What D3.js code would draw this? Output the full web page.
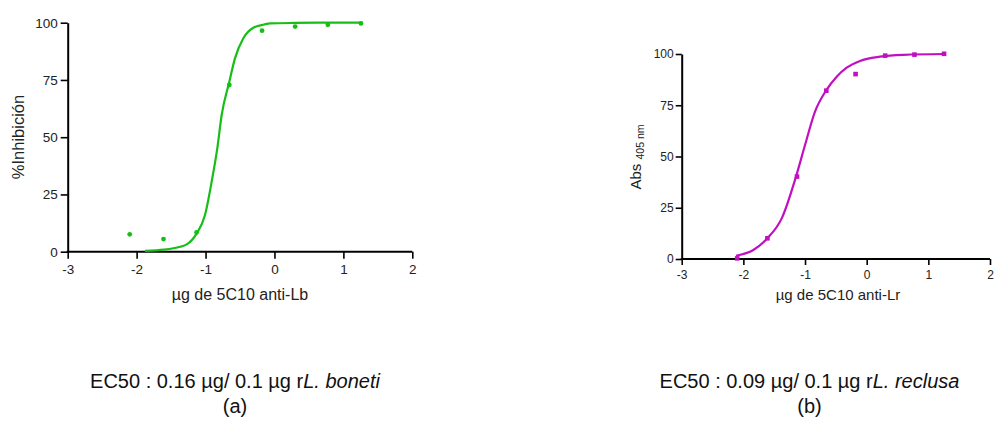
<!DOCTYPE html>
<html>
<head>
<meta charset="utf-8">
<script src="https://cdn.jsdelivr.net/npm/d3@7"></script>
<style>
  html, body { margin: 0; padding: 0; background: #fff; }
  svg { display: block; font-family: Arial, "Liberation Sans", sans-serif; }
</style>
</head>
<body>
<svg id="chart" width="995" height="421"></svg>
<script>
// ---- data (log10 of µg antibody) ----
const logDose = [-2.1, -1.61, -1.13, -0.655, -0.18, 0.30, 0.775, 1.255];
const inhibLb = [7.6, 5.5, 8.4, 72.8, 96.5, 98.3, 99.1, 99.7];
const absLr   = [0.3, 10.1, 40.2, 82.1, 90.2, 99.2, 99.7, 100.1];

// fitted curves
const curveLbX = [-1.878, -1.60, -1.467, -1.273, -1.128, -1.008, -0.911, -0.829, -0.766, -0.655, -0.573, -0.452, -0.307, -0.15, -0.065, 0.3, 0.8, 1.275];
const curveLbY = [0.4, 0.9, 1.5, 3.2, 8.0, 16.0, 30.6, 45.2, 59.7, 74.2, 84.4, 93.2, 97.8, 99.2, 99.7, 99.9, 100, 100];
const curveLrX = [-2.12, -1.839, -1.611, -1.378, -1.146, -1.0, -0.838, -0.66, -0.486, -0.324, -0.108, 0.216, 0.6, 1.25];
const curveLrY = [1.6, 4.4, 10.1, 19.8, 40.2, 55.6, 71.9, 82.1, 88.9, 93.3, 96.6, 98.7, 99.6, 100];

const xTicks = [-3, -2, -1, 0, 1, 2];
const yTicks = [0, 25, 50, 75, 100];

const svg = d3.select("#chart");
svg.append("rect").attr("width", 995).attr("height", 421).attr("fill", "#fff");

function panel(opt) {
  const x = d3.scaleLinear().domain([-3, 2]).range(opt.xr);
  const y = d3.scaleLinear().domain([0, 100]).range(opt.yr);
  const g = svg.append("g");

  const xa = g.append("g").attr("transform", `translate(0,${opt.yr[0]})`)
    .call(d3.axisBottom(x).tickValues(xTicks).tickFormat(d => d < 0 ? "-" + Math.abs(d) : String(d))
      .tickSize(opt.tick).tickPadding(opt.pad).tickSizeOuter(0));
  const ya = g.append("g").attr("transform", `translate(${opt.xr[0]},0)`)
    .call(d3.axisLeft(y).tickValues(yTicks).tickSize(opt.tick).tickPadding(opt.ypad).tickSizeOuter(0));
  [xa, ya].forEach(a => {
    a.select(".domain").attr("stroke", "#000").attr("stroke-width", 2);
    a.selectAll(".tick line").attr("stroke", "#000").attr("stroke-width", 1.6);
    a.selectAll(".tick text").attr("fill", "#222").style("font-size", opt.tf + "px");
  });
  xa.select(".domain").attr("d", `M${opt.xr[0] - 1},0H${opt.xr[1]}`);

  // curve
  const pts = opt.cx.map((v, i) => [v, opt.cy[i]]);
  g.append("path").datum(pts)
    .attr("fill", "none").attr("stroke", opt.color).attr("stroke-width", 2.2)
    .attr("d", d3.line().x(d => x(d[0])).y(d => y(d[1])).curve(d3.curveMonotoneX));

  // points
  const pd = logDose.map((v, i) => [v, opt.vals[i]]);
  if (opt.marker === "circle") {
    g.selectAll("circle.pt").data(pd).join("circle").attr("class", "pt")
      .attr("cx", d => x(d[0])).attr("cy", d => y(d[1])).attr("r", 2.4).attr("fill", opt.color);
  } else {
    g.selectAll("rect.pt").data(pd).join("rect").attr("class", "pt")
      .attr("x", d => x(d[0]) - 2.3).attr("y", d => y(d[1]) - 2.3)
      .attr("width", 4.6).attr("height", 4.6).attr("fill", opt.color);
  }

  g.append("text").attr("x", opt.xtx).attr("y", opt.xty).attr("text-anchor", "middle")
    .attr("fill", "#222").style("font-size", opt.ttf + "px").text(opt.xtitle);
  return { x, y, g };
}

const L = panel({
  xr: [67.7, 412.3], yr: [251.7, 22.7], tick: 7, pad: 6, ypad: 3, tf: 13.5,
  cx: curveLbX, cy: curveLbY, vals: inhibLb, color: "#16bf16", marker: "circle",
  xtitle: "\u00B5g de 5C10 anti-Lb", xtx: 240, xty: 300, ttf: 16
});
L.g.append("text").attr("transform", "translate(24,137) rotate(-90)").attr("text-anchor", "middle")
  .attr("fill", "#222").style("font-size", "16.5px").text("%Inhibición");

const R = panel({
  xr: [681.7, 990], yr: [259, 54], tick: 6, pad: 5, ypad: 2, tf: 12,
  cx: curveLrX, cy: curveLrY, vals: absLr, color: "#c010c0", marker: "square",
  xtitle: "\u00B5g de 5C10 anti-Lr", xtx: 838, xty: 300, ttf: 15
});
const yt = R.g.append("text").attr("transform", "translate(641,157) rotate(-90)").attr("text-anchor", "middle")
  .attr("fill", "#222").style("font-size", "15px");
yt.append("tspan").text("Abs ");
yt.append("tspan").attr("dy", 3).style("font-size", "10.5px").text("405 nm");

// captions
function caption(cx, sp, italic, lab) {
  const t = svg.append("text").attr("x", cx).attr("y", 387.5).attr("text-anchor", "middle")
    .attr("fill", "#111").style("font-size", "20px");
  t.append("tspan").text(sp);
  t.append("tspan").style("font-style", "italic").text(italic);
  svg.append("text").attr("x", cx).attr("y", 413).attr("text-anchor", "middle")
    .attr("fill", "#111").style("font-size", "20px").text(lab);
}
caption(235, "EC50 : 0.16 \u00B5g/ 0.1 \u00B5g r", "L. boneti", "(a)");
caption(809.5, "EC50 : 0.09 \u00B5g/ 0.1 \u00B5g r", "L. reclusa", "(b)");
</script>
</body>
</html>
